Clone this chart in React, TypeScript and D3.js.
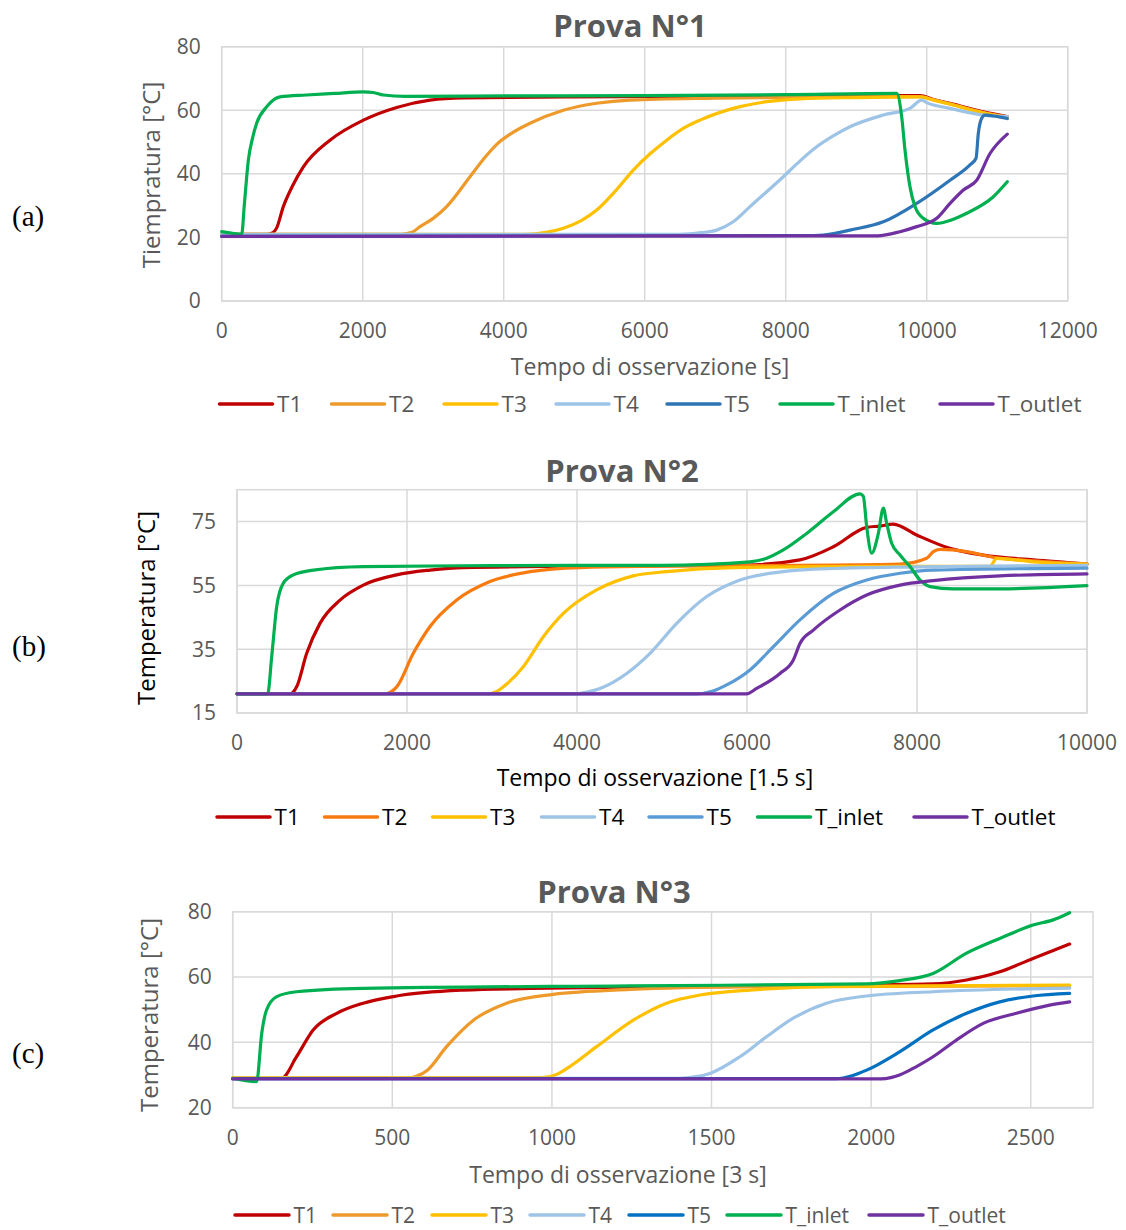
import * as d3 from 'd3';

type Pt = [number, number];

// ---- Prova N°1 ----
const p1_T1: Pt[] = [[0,21],[650,21],[720,21.4],[780,23],[874,29.7],[1000,36],[1158,42.2],[1536,50.6],[2009,56.9],[2482,60.9],[2955,63.2],[3427,63.9],[5000,64.2],[7000,64.4],[9000,64.6],[9905,64.6],[10094,63.4],[10331,62.2],[10803,59.5],[11143,58]];
const p1_T2: Pt[] = [[0,21],[2550,21],[2700,21.6],[2813,23.4],[3000,26],[3191,29.7],[3522,39.1],[3750,45.6],[3901,49.3],[4100,52.6],[4373,55.9],[4846,60],[5319,62.2],[5792,63.2],[7000,63.8],[9000,64.2],[9905,64.3],[10094,63.3],[10331,62],[10803,59.3],[11143,57.9]];
const p1_T3: Pt[] = [[0,21],[4300,21],[4600,21.6],[4846,22.9],[5100,25.3],[5319,28.6],[5580,34.5],[5838,41.2],[6080,46.4],[6312,50.6],[6540,54.2],[6784,56.9],[7257,60.6],[7730,62.7],[8203,63.6],[9000,64],[9905,64.2],[10094,63.2],[10331,61.9],[10803,59.2],[11143,57.8]];
const p1_T4: Pt[] = [[0,21],[6500,21],[6800,21.5],[7021,22.3],[7260,25],[7494,29.7],[7966,39.1],[8200,44],[8440,48.5],[8680,52],[8912,54.8],[9384,58.5],[9763,60.6],[9929,63.2],[10000,62.4],[10331,60.6],[10803,58.5],[11143,58]];
const p1_T5: Pt[] = [[0,20.3],[8400,20.6],[8700,21.3],[8912,22.3],[9384,24.9],[9858,30.7],[10331,38],[10614,42.8],[10700,44.9],[10732,52.7],[10780,57.5],[10827,58.5],[11143,57.4]];
const p1_Tin: Pt[] = [[0,21.8],[150,21.3],[284,21],[320,30],[378,44.3],[440,51.5],[496,55.9],[638,61.1],[827,64.2],[1200,64.8],[1600,65.3],[2005,65.8],[2150,65.6],[2293,64.8],[2600,64.4],[4000,64.5],[6000,64.6],[8000,64.9],[9574,65.3],[9645,58],[9692,47.5],[9763,35.9],[9834,29.7],[9952,26],[10142,24.4],[10350,25.5],[10567,27.6],[10945,32.8],[11143,37.5]];
const p1_Tout: Pt[] = [[0,20.3],[9300,20.5],[9621,21.8],[9858,23.4],[10142,26],[10331,30.7],[10520,34.9],[10709,38],[10898,46.4],[11143,52.5]];
const p1_xTicks = [0, 2000, 4000, 6000, 8000, 10000, 12000];
const p1_yTicks = [0, 20, 40, 60, 80];

// ---- Prova N°2 ----
const p2_T1: Pt[] = [[0,21],[627,21],[702,23.2],[820,33.7],[976,43.1],[1212,50.4],[1486,55.1],[1879,58.3],[2271,59.8],[2662,60.6],[4000,61],[6000,61.4],[6623,63],[7016,67.1],[7408,73.2],[7565,73.6],[7721,74.2],[7996,70.8],[8388,66.6],[8780,64.5],[9368,63],[10000,61.7]];
const p2_T2: Pt[] = [[0,21],[1740,21],[1820,21.8],[1879,23.2],[2074,33.7],[2271,42.1],[2585,50.4],[2976,56.2],[3447,59.3],[4035,60.6],[5000,61],[7000,61.4],[7800,61.7],[8114,63.5],[8192,65.6],[8270,66.3],[8584,65.6],[8898,63.8],[9368,62.7],[10000,61.7]];
const p2_T3: Pt[] = [[0,21],[2950,21],[3050,21.7],[3133,23.2],[3368,29.5],[3604,38.9],[3839,46.2],[4231,53.6],[4662,58],[5055,59.3],[5839,60.6],[7000,60.9],[8859,61],[8937,63.5],[9368,62.4],[10000,61.7]];
const p2_T4: Pt[] = [[0,21],[3950,21],[4120,21.6],[4271,22.7],[4585,27.4],[4859,33.7],[5173,43.1],[5526,51.5],[5918,56.7],[6427,59.3],[7016,60.3],[8000,60.8],[10000,61.3]];
const p2_T5: Pt[] = [[0,21],[5400,21],[5600,21.9],[5761,23.8],[6035,28.5],[6310,35.8],[6623,44.2],[7016,52.5],[7408,56.7],[7800,58.8],[8192,59.8],[10000,60.4]];
const p2_Tin: Pt[] = [[0,21],[361,21],[408,32.6],[467,48.3],[545,55.7],[663,58.3],[898,59.8],[1486,60.9],[3000,61.2],[5000,61.3],[6035,62.4],[6232,63.5],[6427,66.1],[6702,71.3],[7016,78.1],[7329,83.7],[7368,83],[7408,73.4],[7467,65.1],[7545,71.3],[7604,79.2],[7643,74.5],[7702,68.2],[7800,64.5],[7918,60.9],[8035,56.7],[8153,54.6],[8427,53.9],[8976,53.9],[10000,54.9]];
const p2_Tout: Pt[] = [[0,21],[5996,21],[6114,22.7],[6388,27.4],[6545,31.6],[6623,36.8],[6780,41],[7094,47.3],[7408,52],[7800,55.1],[8192,56.5],[8976,58],[10000,58.6]];
const p2_xTicks = [0, 2000, 4000, 6000, 8000, 10000];
const p2_yTicks = [15, 35, 55, 75];

// ---- Prova N°3 ----
const p3_T1: Pt[] = [[0,29],[153,29],[200,35.6],[252,43.8],[326,48.9],[409,52],[514,54.2],[722,56],[931,56.5],[1500,57.2],[1986,57.6],[2194,57.9],[2299,59.1],[2403,61.6],[2507,65.7],[2622,70.1]];
const p3_T2: Pt[] = [[0,29],[545,29],[575,29.6],[610,31.5],[670,38.7],[754,46.8],[858,52],[1004,54.7],[1244,56.2],[1600,57],[2622,57.3]];
const p3_T3: Pt[] = [[0,29.2],[970,29.2],[1015,30.2],[1056,32.6],[1140,38.7],[1255,46.8],[1359,52],[1464,54.5],[1620,56],[1881,57.1],[2622,57.5]];
const p3_T4: Pt[] = [[0,29],[1400,29],[1450,29.5],[1495,30.5],[1589,35.6],[1672,41.7],[1756,47.4],[1860,52],[1986,54.2],[2194,55.5],[2622,56.6]];
const p3_T5: Pt[] = [[0,28.9],[1890,28.9],[1940,29.8],[1986,31.5],[2089,37.1],[2194,43.8],[2299,48.9],[2403,52.4],[2507,54.2],[2622,55]];
const p3_Tin: Pt[] = [[0,29],[40,28.3],[75,28],[91,42.8],[106,49.9],[138,54],[200,55.5],[409,56.5],[1244,57.3],[1986,57.9],[2089,58.9],[2194,61.1],[2299,67.3],[2403,71.8],[2507,75.9],[2570,77.5],[2622,79.7]];
const p3_Tout: Pt[] = [[0,28.8],[2030,28.8],[2065,29.3],[2089,30],[2142,32.6],[2194,35.6],[2267,40.7],[2351,45.8],[2455,48.9],[2559,51.4],[2622,52.4]];
const p3_xTicks = [0, 500, 1000, 1500, 2000, 2500];
const p3_yTicks = [20, 40, 60, 80];

const seriesNames = ['T1', 'T2', 'T3', 'T4', 'T5', 'T_inlet', 'T_outlet'];

const FONT = '"Open Sans", sans-serif';
const GRAY = '#595959';
const GRID = '#d9d9d9';

interface ChartCfg {
  label: string; labelY: number;
  title: string; titleX: number; titleY: number;
  series: Pt[][]; colors: string[];
  xDomain: [number, number]; xRange: [number, number];
  yDomain: [number, number]; yRange: [number, number];
  xTicks: number[]; yTicks: number[];
  yTitle: string; yTitleX: number; yTitleY: number;
  xTitle: string; xTitleX: number; xTitleY: number;
  titleColor: string;
  legendY: number; legendX: number[]; legendLine: number; legendFont: number;
}

const charts: ChartCfg[] = [
  {
    label: '(a)', labelY: 226,
    title: 'Prova N°1', titleX: 630, titleY: 37,
    series: [p1_T1, p1_T2, p1_T3, p1_T4, p1_T5, p1_Tin, p1_Tout],
    colors: ['#c00000', '#ed9a2b', '#ffc000', '#9dc3e6', '#2e75b6', '#00b050', '#7030a0'],
    xDomain: [0, 12000], xRange: [221.7, 1067.7],
    yDomain: [0, 80], yRange: [301, 46.7],
    xTicks: p1_xTicks, yTicks: p1_yTicks,
    yTitle: 'Tiempratura [°C]', yTitleX: 160, yTitleY: 175,
    xTitle: 'Tempo di osservazione [s]', xTitleX: 650, xTitleY: 375,
    titleColor: GRAY,
    legendY: 412, legendX: [219.5, 331.5, 444, 556, 667, 780, 940], legendLine: 53, legendFont: 22.5,
  },
  {
    label: '(b)', labelY: 656,
    title: 'Prova N°2', titleX: 622, titleY: 482,
    series: [p2_T1, p2_T2, p2_T3, p2_T4, p2_T5, p2_Tin, p2_Tout],
    colors: ['#c00000', '#f97b10', '#ffc000', '#9dc3e6', '#5b9bd5', '#00b050', '#7030a0'],
    xDomain: [0, 10000], xRange: [237, 1087],
    yDomain: [15, 85], yRange: [713, 489.7],
    xTicks: p2_xTicks, yTicks: p2_yTicks,
    yTitle: 'Temperatura [°C]', yTitleX: 155, yTitleY: 608,
    xTitle: 'Tempo di osservazione [1.5 s]', xTitleX: 655, xTitleY: 786,
    titleColor: '#000',
    legendY: 825, legendX: [217, 324.5, 432.5, 541.5, 649, 757.5, 914], legendLine: 53, legendFont: 22.5,
  },
  {
    label: '(c)', labelY: 1063,
    title: 'Prova N°3', titleX: 614, titleY: 903,
    series: [p3_T1, p3_T2, p3_T3, p3_T4, p3_T5, p3_Tin, p3_Tout],
    colors: ['#c00000', '#ed9a2b', '#ffc000', '#9dc3e6', '#0070c0', '#00b050', '#7030a0'],
    xDomain: [0, 2695], xRange: [232.7, 1093],
    yDomain: [20, 80], yRange: [1107.7, 911.7],
    xTicks: p3_xTicks, yTicks: p3_yTicks,
    yTitle: 'Temperatura [°C]', yTitleX: 158, yTitleY: 1015,
    xTitle: 'Tempo di osservazione [3 s]', xTitleX: 618, xTitleY: 1183,
    titleColor: GRAY,
    legendY: 1223, legendX: [235, 333, 432, 530, 629, 727, 869], legendLine: 54, legendFont: 21,
  },
];

function Chart({ c }: { c: ChartCfg }) {
  const x = d3.scaleLinear().domain(c.xDomain).range(c.xRange);
  const y = d3.scaleLinear().domain(c.yDomain).range(c.yRange);
  const line = d3.line<Pt>().x(d => x(d[0])).y(d => y(d[1])).curve(d3.curveMonotoneX);
  const [x0, x1] = c.xRange;
  const [yb, yt] = c.yRange;
  return (
    <g>
      <text x={12} y={c.labelY} fontFamily='"Liberation Serif", "DejaVu Serif", serif' fontSize={29} fill="#000">{c.label}</text>
      <text x={c.titleX} y={c.titleY} textAnchor="middle" fontFamily={FONT} fontWeight="bold" fontSize={31} fill={GRAY}>{c.title}</text>
      {/* grid */}
      {c.yTicks.map(v => (
        <line key={'gy' + v} x1={x0} x2={x1} y1={y(v)} y2={y(v)} stroke={GRID} strokeWidth={1.5} />
      ))}
      {c.xTicks.map(v => (
        <line key={'gx' + v} x1={x(v)} x2={x(v)} y1={yt} y2={yb} stroke={GRID} strokeWidth={1.5} />
      ))}
      <rect x={x0} y={yt} width={x1 - x0} height={yb - yt} fill="none" stroke={GRID} strokeWidth={1.5} />
      {/* tick labels */}
      {c.yTicks.map(v => (
        <text key={'ty' + v} x={x0 - 21} y={y(v)} dy="0.35em" textAnchor="end" fontFamily={FONT} fontSize={21} fill={GRAY}>{v}</text>
      ))}
      {c.xTicks.map(v => (
        <text key={'tx' + v} x={x(v)} y={yb + 30} dy="0.35em" textAnchor="middle" fontFamily={FONT} fontSize={21} fill={GRAY}>{v}</text>
      ))}
      <text transform={`translate(${c.yTitleX},${c.yTitleY}) rotate(-90)`} textAnchor="middle" fontFamily={FONT} fontSize={24} fill={c.titleColor}>{c.yTitle}</text>
      <text x={c.xTitleX} y={c.xTitleY} textAnchor="middle" fontFamily={FONT} fontSize={23} fill={c.titleColor}>{c.xTitle}</text>
      {/* series */}
      {c.series.map((s, i) => (
        <path key={'s' + i} d={line(s) || ''} fill="none" stroke={c.colors[i]} strokeWidth={3.2} strokeLinejoin="round" strokeLinecap="round" />
      ))}
      {/* legend */}
      {seriesNames.map((n, i) => (
        <g key={'lg' + n}>
          <line x1={c.legendX[i]} x2={c.legendX[i] + c.legendLine} y1={c.legendY - 8} y2={c.legendY - 8} stroke={c.colors[i]} strokeWidth={3.5} strokeLinecap="round" />
          <text x={c.legendX[i] + c.legendLine + 4.5} y={c.legendY} fontFamily={FONT} fontSize={c.legendFont} fill={c.titleColor}>{n}</text>
        </g>
      ))}
    </g>
  );
}

export default function App() {
  return (
    <svg width={1126} height={1230} style={{ position: 'absolute', left: 0, top: 0, background: '#fff' }}>
      <rect width={1126} height={1230} fill="#fff" />
      {charts.map((c, i) => <Chart key={i} c={c} />)}
    </svg>
  );
}
